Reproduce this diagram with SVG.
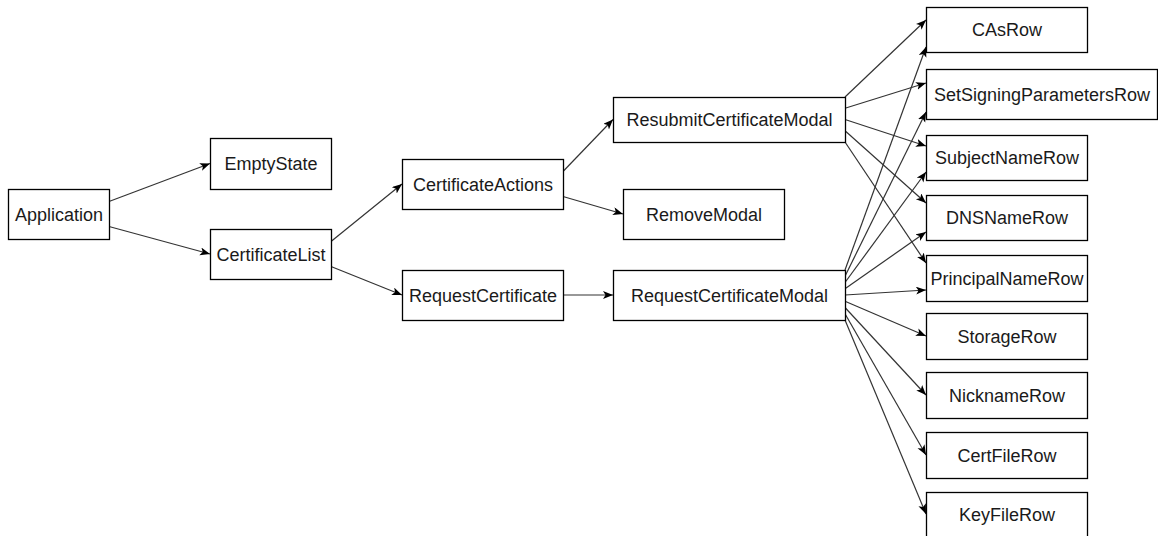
<svg xmlns="http://www.w3.org/2000/svg" width="1158" height="536" viewBox="0 0 1158 536">
<style>
  .node rect { fill: #ffffff; stroke: #000000; stroke-width: 1.3; }
  .node text { font-family: "Liberation Sans", Arial, sans-serif; font-size: 18px; fill: #1a1a1a; text-anchor: middle; dominant-baseline: central; }
  .edges line { stroke: #333333; stroke-width: 1.2; marker-end: url(#arrow); }
</style>
<defs>
  <marker id="arrow" markerUnits="userSpaceOnUse" markerWidth="12" markerHeight="10" refX="10" refY="4" orient="auto">
    <path d="M0,0 L10,4 L0,8 L2.5,4 z" fill="#000000"/>
  </marker>
</defs>
<rect width="1158" height="536" fill="#ffffff"/>
<g class="edges" id="connectors">
  <line x1="109" y1="201.5" x2="210" y2="163.5"/>
  <line x1="109" y1="226.5" x2="210" y2="254"/>
  <line x1="331" y1="241.5" x2="402" y2="184"/>
  <line x1="331" y1="266.5" x2="402" y2="295"/>
  <line x1="563" y1="171.5" x2="613" y2="119.5"/>
  <line x1="563" y1="196.5" x2="623" y2="214"/>
  <line x1="563" y1="295" x2="613" y2="295"/>
  <line x1="845" y1="97" x2="926" y2="20"/>
  <line x1="845" y1="108.25" x2="926" y2="83"/>
  <line x1="845" y1="119.5" x2="926" y2="146"/>
  <line x1="845" y1="130.75" x2="926" y2="203"/>
  <line x1="845" y1="142" x2="926" y2="263"/>
  <line x1="845" y1="270" x2="926" y2="47"/>
  <line x1="845" y1="276.25" x2="926" y2="112"/>
  <line x1="845" y1="282.5" x2="926" y2="172"/>
  <line x1="845" y1="288.75" x2="926" y2="232"/>
  <line x1="845" y1="295" x2="926" y2="290"/>
  <line x1="845" y1="301.25" x2="926" y2="336"/>
  <line x1="845" y1="307.5" x2="926" y2="395"/>
  <line x1="845" y1="313.75" x2="926" y2="455"/>
  <line x1="845" y1="320" x2="926" y2="514"/>
</g>
<g class="node" id="Application"><rect x="8.5" y="189.5" width="101" height="50"/><text x="59" y="214.5">Application</text></g>
<g class="node" id="EmptyState"><rect x="210.5" y="138.5" width="121" height="51"/><text x="271" y="164">EmptyState</text></g>
<g class="node" id="CertificateList"><rect x="210.5" y="229.5" width="121" height="50"/><text x="271" y="254.5">CertificateList</text></g>
<g class="node" id="CertificateActions"><rect x="402.5" y="159.5" width="161" height="50"/><text x="483" y="184.5">CertificateActions</text></g>
<g class="node" id="RequestCertificate"><rect x="402.5" y="270.5" width="161" height="50"/><text x="483" y="295.5">RequestCertificate</text></g>
<g class="node" id="ResubmitCertificateModal"><rect x="613.5" y="97.5" width="232" height="45"/><text x="729.5" y="120">ResubmitCertificateModal</text></g>
<g class="node" id="RemoveModal"><rect x="623.5" y="189.5" width="161" height="50"/><text x="704" y="214.5">RemoveModal</text></g>
<g class="node" id="RequestCertificateModal"><rect x="613.5" y="270.5" width="232" height="50"/><text x="729.5" y="295.5">RequestCertificateModal</text></g>
<g class="node" id="CAsRow"><rect x="926.5" y="7.5" width="161" height="45"/><text x="1007" y="30">CAsRow</text></g>
<g class="node" id="SetSigningParametersRow"><rect x="926.5" y="69.5" width="231" height="50"/><text x="1042" y="94.5">SetSigningParametersRow</text></g>
<g class="node" id="SubjectNameRow"><rect x="926.5" y="135.5" width="161" height="45"/><text x="1007" y="158">SubjectNameRow</text></g>
<g class="node" id="DNSNameRow"><rect x="926.5" y="195.5" width="161" height="45"/><text x="1007" y="218">DNSNameRow</text></g>
<g class="node" id="PrincipalNameRow"><rect x="926.5" y="255.5" width="161" height="46"/><text x="1007" y="278.5">PrincipalNameRow</text></g>
<g class="node" id="StorageRow"><rect x="926.5" y="313.5" width="161" height="46"/><text x="1007" y="336.5">StorageRow</text></g>
<g class="node" id="NicknameRow"><rect x="926.5" y="372.5" width="161" height="46"/><text x="1007" y="395.5">NicknameRow</text></g>
<g class="node" id="CertFileRow"><rect x="926.5" y="432.5" width="161" height="46"/><text x="1007" y="455.5">CertFileRow</text></g>
<g class="node" id="KeyFileRow"><rect x="926.5" y="492.5" width="161" height="45"/><text x="1007" y="515">KeyFileRow</text></g>
</svg>
